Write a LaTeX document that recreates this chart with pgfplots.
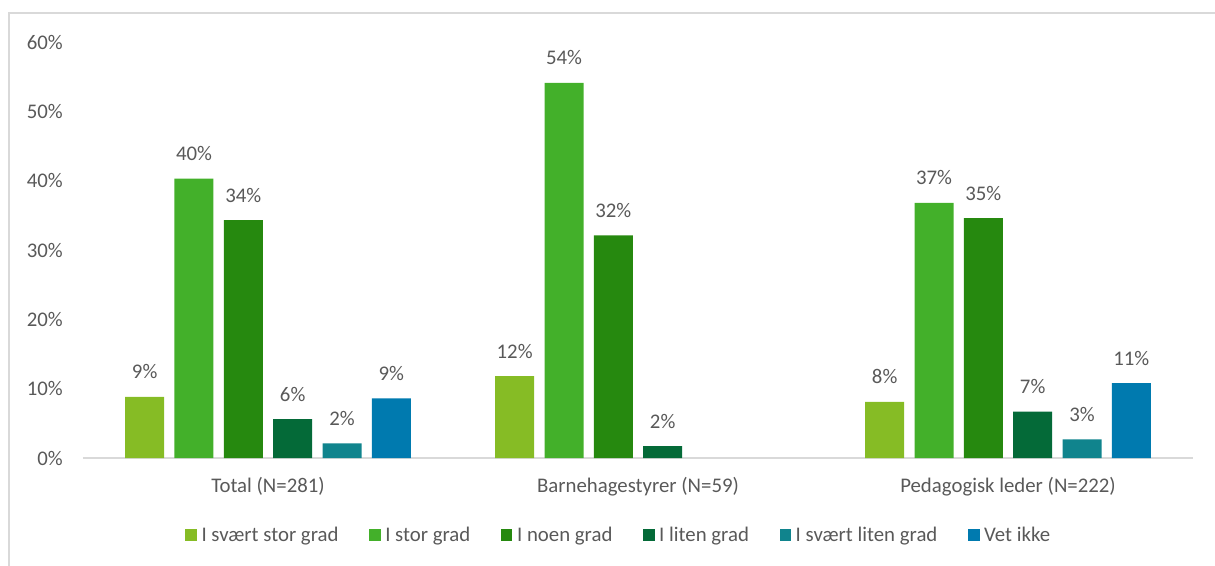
\documentclass[border=0pt]{standalone}
\usepackage{pgfplots}
\pgfplotsset{compat=1.18}
\usepackage{fontspec}
\setmainfont{Carlito}

\definecolor{txt}{HTML}{595959}
\definecolor{gridgrey}{HTML}{D9D9D9}
\definecolor{cA}{HTML}{86BC25}
\definecolor{cB}{HTML}{43B02A}
\definecolor{cC}{HTML}{26890F}
\definecolor{cD}{HTML}{046A38}
\definecolor{cE}{HTML}{10848D}
\definecolor{cF}{HTML}{007AAF}

\begin{document}
\begin{tikzpicture}[font=\fontsize{15.6}{18}\selectfont, text=txt]
% 1 px = 0.75pt ; axis origin at pixel (85,458)
\useasboundingbox (-63.75pt,-80.25pt) rectangle (847.5pt,343.5pt);
\draw[gridgrey, line width=1.5pt] (-57pt,-81pt) -- (-57pt,333.75pt) -- (848pt,333.75pt);
\begin{axis}[
  at={(-1.5pt,0)}, anchor=south west,
  scale only axis,
  width=832.5pt, height=312pt,
  /pgf/number format/assume math mode=true,
  ybar=7.75pt, bar width=29.25pt,
  xmin=-0.5, xmax=2.5, ymin=0, ymax=60,
  axis x line*=bottom, axis y line*=left,
  x axis line style={gridgrey, line width=1.1pt, -},
  y axis line style={draw=none},
  xtick={0,1,2},
  xticklabels={Total (N=281), Barnehagestyrer (N=59), Pedagogisk leder (N=222)},
  ytick={0,10,...,60},
  yticklabel={\pgfmathprintnumber{\tick}\%},
  major tick length=0pt,
  tick style={draw=none},
  yticklabel style={anchor=east, inner sep=0pt, xshift=-15pt, text=txt},
  xticklabel style={anchor=base, inner sep=0pt, yshift=-25.5pt, text=txt},
  nodes near coords={\pgfmathprintnumber[fixed,precision=0]{\pgfplotspointmeta}\%},
  nodes near coords style={anchor=base, inner sep=0pt, yshift=13.5pt, text=txt},
  legend columns=6,
  legend image code/.code={\fill[#1] (0pt,-4.3pt) rectangle (8.6pt,4.3pt);},
  legend style={at={(0.483,-0.185)}, anchor=center, draw=none, fill=none,
    text=txt, font=\fontsize{15.6}{18}\selectfont,
    /tikz/every odd column/.append style={column sep=1.5pt},
    /tikz/every even column/.append style={column sep=21pt}},
]
\addplot[fill=cA, draw=none] coordinates {(0,8.8) (1,11.8) (2,8.1)};
\addplot[fill=cB, draw=none] coordinates {(0,40.3) (1,54.1) (2,36.8)};
\addplot[fill=cC, draw=none] coordinates {(0,34.3) (1,32.1) (2,34.6)};
\addplot[fill=cD, draw=none] coordinates {(0,5.6) (1,1.7) (2,6.7)};
\addplot[fill=cE, draw=none] coordinates {(0,2.1) (2,2.7)};
\addplot[fill=cF, draw=none] coordinates {(0,8.6) (2,10.8)};
\legend{I svært stor grad, I stor grad, I noen grad, I liten grad, I svært liten grad, Vet ikke}
\end{axis}
\end{tikzpicture}
\end{document}
